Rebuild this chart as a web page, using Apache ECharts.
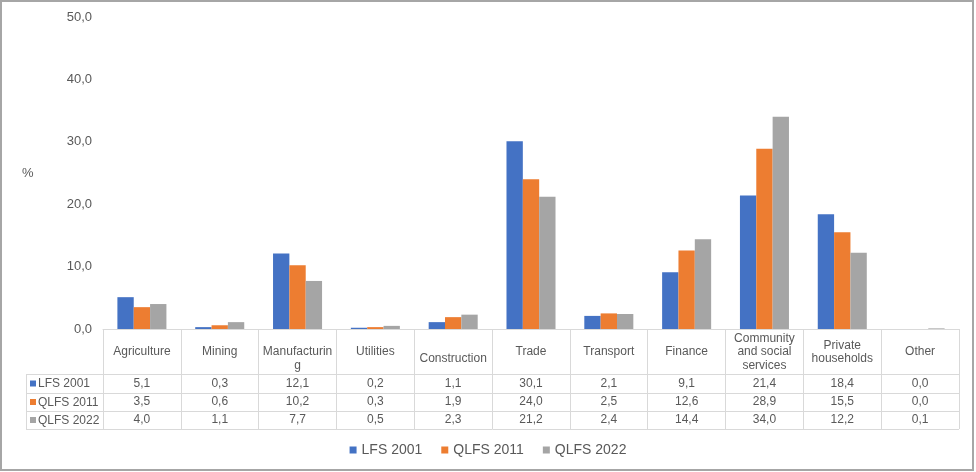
<!DOCTYPE html>
<html>
<head>
<meta charset="utf-8">
<script src="https://cdn.jsdelivr.net/npm/echarts@6/dist/echarts.min.js"></script>
<style>
html,body{margin:0;padding:0;background:#fff;}
#c{width:976px;height:472px;}
</style>
</head>
<body>
<div id="c"></div>
<script>
var categories = ["Agriculture","Mining","Manufacturing","Utilities","Construction","Trade","Transport","Finance","Community and social services","Private households","Other"];
var headerLabels = ["Agriculture","Mining","\nManufacturin\ng","Utilities","\nConstruction","Trade","Transport","Finance","Community\nand social\nservices","Private\nhouseholds","Other"];
var seriesNames = ["LFS 2001","QLFS 2011","QLFS 2022"];
var lfs2001 = [5.1,0.3,12.1,0.2,1.1,30.1,2.1,9.1,21.4,18.4,0.0];
var qlfs2011 = [3.5,0.6,10.2,0.3,1.9,24.0,2.5,12.6,28.9,15.5,0.0];
var qlfs2022 = [4.0,1.1,7.7,0.5,2.3,21.2,2.4,14.4,34.0,12.2,0.1];
var yTicks = [0,10,20,30,40,50];

var colors = ["#4472C4","#ED7D31","#A5A5A5"];
var seriesData = [lfs2001, qlfs2011, qlfs2022];
var FONT = "Liberation Sans, Arial, sans-serif";
var TXT = "#595959";
var LINE = "#d9d9d9";
function fmt(v){ return v.toFixed(1).replace(".", ","); }

var gridLeft = 103, gridRight = 17, gridTop = 17, gridBottom = 143;
var W = 976, H = 472;
var baseY = H - gridBottom;
var rowTops = [374, 393, 411, 429];
var tableLeft = 26, tableRight = W - gridRight;

var xAxes = [{
  type: "category", data: categories, gridIndex: 0,
  axisLine: {show: true, lineStyle: {color: LINE, width: 1}},
  axisTick: {show: true, interval: 0, length: rowTops[3] - baseY, lineStyle: {color: LINE}},
  axisLabel: {interval: 0, margin: 23, verticalAlign: "middle", lineHeight: 13.5,
    color: TXT, fontSize: 12, fontFamily: FONT,
    formatter: function(v, i){ return headerLabels[i]; }}
}];
for (var k = 0; k < 3; k++) {
  (function(k){
    xAxes.push({
      type: "category", data: categories, gridIndex: 0, position: "bottom",
      axisLine: {show: false}, axisTick: {show: false},
      axisLabel: {interval: 0, margin: (rowTops[k] + rowTops[k+1]) / 2 - baseY,
        verticalAlign: "middle", color: TXT, fontSize: 12, fontFamily: FONT,
        formatter: function(v, i){ return fmt(seriesData[k][i]); }}
    });
  })(k);
}

var graphics = [{
  type: "rect", shape: {x: 1, y: 1, width: W - 4, height: H - 3},
  style: {fill: null, stroke: "#a6a6a6", lineWidth: 2}, silent: true
}];
rowTops.forEach(function(y){
  graphics.push({type: "line", shape: {x1: tableLeft, y1: y + 0.5, x2: tableRight, y2: y + 0.5},
    style: {stroke: LINE, lineWidth: 1}, silent: true});
});
graphics.push({type: "line", shape: {x1: tableLeft + 0.5, y1: rowTops[0], x2: tableLeft + 0.5, y2: rowTops[3]},
  style: {stroke: LINE, lineWidth: 1}, silent: true});
for (var r = 0; r < 3; r++) {
  var cy = (rowTops[r] + rowTops[r+1]) / 2;
  graphics.push({type: "rect", shape: {x: 30, y: cy - 3, width: 6, height: 6}, style: {fill: colors[r]}, silent: true});
  graphics.push({type: "text", x: 38, y: cy + 0.5, style: {text: seriesNames[r], fill: TXT, fontSize: 12, fontFamily: FONT,
    verticalAlign: "middle", align: "left"}, silent: true});
}
graphics.push({type: "text", x: 22, y: 173, style: {text: "%", fill: TXT, fontSize: 13, fontFamily: FONT,
  verticalAlign: "middle", align: "left"}, silent: true});

var option = {
  animation: false,
  color: colors,
  grid: {left: gridLeft, right: gridRight, top: gridTop, bottom: gridBottom, containLabel: false},
  legend: {
    data: seriesNames, bottom: 10, left: "center", itemWidth: 7, itemHeight: 7, itemGap: 19,
    icon: "rect", textStyle: {color: TXT, fontSize: 14, fontFamily: FONT}
  },
  xAxis: xAxes,
  yAxis: {
    type: "value", min: yTicks[0], max: yTicks[yTicks.length - 1], interval: 10,
    axisLine: {show: false}, axisTick: {show: false}, splitLine: {show: false},
    axisLabel: {margin: 11, color: TXT, fontSize: 13, fontFamily: FONT, formatter: function(v){ return fmt(v); }}
  },
  series: seriesNames.map(function(n, i){
    return {name: n, type: "bar", xAxisIndex: 0, data: seriesData[i], barGap: "0%", barCategoryGap: "37%",
      itemStyle: {color: colors[i]}};
  }),
  graphic: graphics
};
var chart = echarts.init(document.getElementById("c"));
chart.setOption(option);
</script>
</body>
</html>
